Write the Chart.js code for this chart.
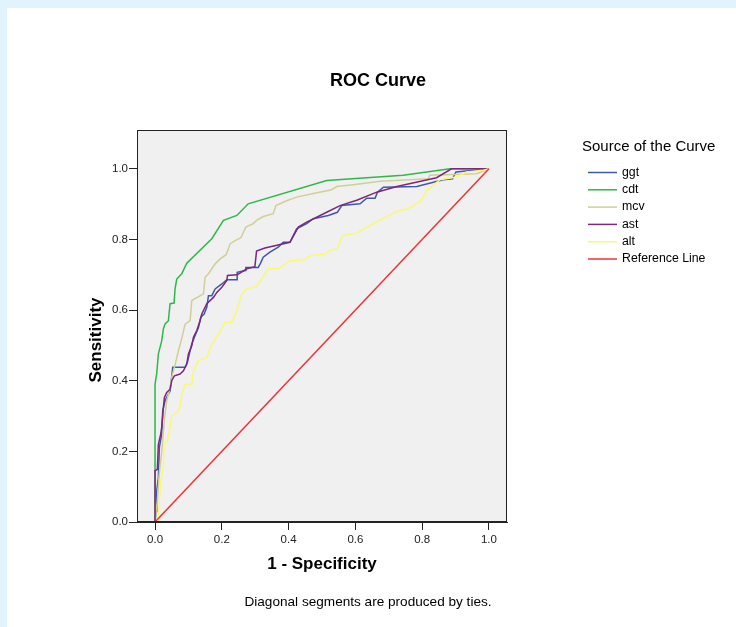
<!DOCTYPE html>
<html>
<head>
<meta charset="utf-8">
<script src="https://cdn.jsdelivr.net/npm/chart.js@4.4.0/dist/chart.umd.min.js"></script>
<style>
html, body { margin: 0; padding: 0; background: #e1f3fd; overflow: hidden; }
#paper { position: absolute; left: 7px; top: 8px; width: 729px; height: 619px; background: #ffffff; }
#roc { position: absolute; left: 0; top: 0; }
</style>
</head>
<body>
<div id="paper"></div>
<canvas id="roc" width="736" height="627"></canvas>
<script>
// series names and colours
var names = ["ggt", "cdt", "mcv", "ast", "alt", "Reference Line"];
var colors = ["#3e58ac", "#2eb848", "#d3ce97", "#7c287d", "#fbf873", "#ef3338"];

var xTicks = [0, 0.2, 0.4, 0.6, 0.8, 1.0];
var yTicks = [0, 0.2, 0.4, 0.6, 0.8, 1.0];

// 1 - specificity / sensitivity
var ggtX = [0, 0.003, 0.005, 0.01, 0.013, 0.02, 0.023, 0.03, 0.037, 0.045, 0.053, 0.09, 0.097, 0.105, 0.11, 0.12, 0.13, 0.137, 0.147, 0.155, 0.16, 0.17, 0.18, 0.2, 0.215, 0.246, 0.246, 0.27, 0.272, 0.309, 0.316, 0.324, 0.344, 0.369, 0.384, 0.404, 0.424, 0.454, 0.474, 0.519, 0.546, 0.559, 0.614, 0.634, 0.659, 0.666, 0.684, 0.784, 0.863, 0.891, 0.901, 1.0];
var ggtY = [0, 0.03, 0.088, 0.126, 0.211, 0.249, 0.315, 0.343, 0.357, 0.37, 0.438, 0.438, 0.452, 0.485, 0.504, 0.528, 0.551, 0.58, 0.589, 0.608, 0.641, 0.641, 0.66, 0.674, 0.686, 0.686, 0.707, 0.712, 0.721, 0.721, 0.733, 0.75, 0.764, 0.778, 0.792, 0.792, 0.83, 0.845, 0.859, 0.868, 0.877, 0.896, 0.901, 0.917, 0.917, 0.934, 0.948, 0.95, 0.969, 0.972, 0.991, 1.0];

var cdtX = [0, 0, 0.005, 0.01, 0.02, 0.025, 0.03, 0.04, 0.045, 0.057, 0.06, 0.065, 0.08, 0.095, 0.17, 0.205, 0.245, 0.279, 0.514, 0.743, 0.883, 1.0];
var cdtY = [0, 0.39, 0.42, 0.476, 0.513, 0.547, 0.561, 0.57, 0.618, 0.62, 0.66, 0.688, 0.703, 0.733, 0.802, 0.854, 0.868, 0.901, 0.967, 0.982, 1.0, 1.0];

var mcvX = [0, 0.003, 0.007, 0.012, 0.02, 0.028, 0.035, 0.045, 0.05, 0.06, 0.07, 0.08, 0.09, 0.105, 0.11, 0.145, 0.15, 0.16, 0.18, 0.195, 0.213, 0.225, 0.24, 0.257, 0.272, 0.294, 0.304, 0.324, 0.354, 0.362, 0.392, 0.424, 0.474, 0.529, 0.544, 0.599, 0.674, 0.818, 0.823, 0.963, 1.0];
var mcvY = [0, 0.03, 0.06, 0.13, 0.2, 0.29, 0.343, 0.38, 0.41, 0.445, 0.485, 0.52, 0.56, 0.57, 0.627, 0.646, 0.693, 0.703, 0.731, 0.745, 0.757, 0.788, 0.797, 0.805, 0.835, 0.845, 0.854, 0.865, 0.873, 0.896, 0.909, 0.92, 0.93, 0.941, 0.95, 0.956, 0.965, 0.972, 0.982, 0.986, 1.0];

var astX = [0, 0, 0.007, 0.01, 0.017, 0.02, 0.025, 0.028, 0.035, 0.045, 0.05, 0.058, 0.075, 0.085, 0.095, 0.1, 0.11, 0.115, 0.125, 0.135, 0.14, 0.155, 0.175, 0.185, 0.2, 0.215, 0.217, 0.246, 0.275, 0.299, 0.304, 0.329, 0.404, 0.429, 0.454, 0.484, 0.514, 0.554, 0.604, 0.664, 0.724, 0.843, 0.888, 1.0];
var astY = [0, 0.145, 0.149, 0.22, 0.249, 0.268, 0.324, 0.353, 0.367, 0.376, 0.4, 0.414, 0.419, 0.428, 0.447, 0.476, 0.499, 0.523, 0.542, 0.57, 0.589, 0.618, 0.636, 0.65, 0.665, 0.684, 0.698, 0.70, 0.717, 0.723, 0.767, 0.776, 0.792, 0.835, 0.849, 0.863, 0.877, 0.896, 0.911, 0.934, 0.95, 0.975, 1.0, 1.0];

var altX = [0, 0.01, 0.013, 0.017, 0.025, 0.027, 0.037, 0.045, 0.05, 0.065, 0.075, 0.08, 0.09, 0.11, 0.115, 0.13, 0.155, 0.165, 0.19, 0.21, 0.23, 0.245, 0.26, 0.275, 0.304, 0.339, 0.369, 0.404, 0.444, 0.469, 0.509, 0.524, 0.546, 0.562, 0.604, 0.654, 0.724, 0.758, 0.798, 0.813, 0.853, 0.903, 0.933, 0.983, 1.0];
var altY = [0, 0.003, 0.06, 0.116, 0.154, 0.22, 0.23, 0.268, 0.30, 0.31, 0.324, 0.363, 0.39, 0.39, 0.428, 0.457, 0.466, 0.494, 0.533, 0.565, 0.565, 0.599, 0.646, 0.66, 0.667, 0.717, 0.717, 0.74, 0.742, 0.755, 0.759, 0.769, 0.774, 0.811, 0.818, 0.845, 0.88, 0.887, 0.911, 0.937, 0.969, 0.977, 0.991, 0.996, 1.0];

var refX = [0, 1];
var refY = [0, 1];

var seriesX = [ggtX, cdtX, mcvX, astX, altX, refX];
var seriesY = [ggtY, cdtY, mcvY, astY, altY, refY];

var FONT = "'Liberation Sans', Arial, sans-serif";
var INK = "#222222";

var datasets = [];
for (var i = 0; i < names.length; i++) {
	var pts = [];
	for (var j = 0; j < seriesX[i].length; j++) {
		pts.push({ x: seriesX[i][j], y: seriesY[i][j] });
	}
	datasets.push({
		label: names[i],
		data: pts,
		borderColor: colors[i],
		backgroundColor: colors[i],
		borderWidth: 1.5,
		pointRadius: 0,
		tension: 0,
		fill: false,
		order: names.length - 1 - i
	});
}

var frame = {
	id: "frame",
	beforeDraw: function(chart) {
		var a = chart.chartArea, c = chart.ctx;
		c.save();
		c.fillStyle = "#f0f0f0";
		c.fillRect(a.left, a.top, a.right - a.left, a.bottom - a.top);
		c.restore();
	},
	afterDraw: function(chart) {
		var a = chart.chartArea, c = chart.ctx;
		c.save();
		c.strokeStyle = INK;
		c.lineWidth = 1;
		c.strokeRect(a.left + 0.5, a.top + 0.5, a.right - a.left - 1, a.bottom - a.top - 1);

		c.fillStyle = "#000";
		c.textAlign = "center";
		c.textBaseline = "middle";
		c.font = "bold 18px " + FONT;
		c.fillText("ROC Curve", 378, 81);

		c.font = "bold 17px " + FONT;
		c.fillText("1 - Specificity", 322, 564);

		c.save();
		c.translate(96, 340);
		c.rotate(-Math.PI / 2);
		c.fillText("Sensitivity", 0, 0);
		c.restore();

		c.font = "13.6px " + FONT;
		c.fillText("Diagonal segments are produced by ties.", 368, 602);

		// legend
		c.textAlign = "left";
		c.font = "15px " + FONT;
		c.fillText("Source of the Curve", 582, 147);
		c.font = "12.3px " + FONT;
		for (var k = 0; k < names.length; k++) {
			var y = 172.5 + k * 17.3;
			c.strokeStyle = colors[k];
			c.lineWidth = 1.5;
			c.beginPath();
			c.moveTo(588, y);
			c.lineTo(617, y);
			c.stroke();
			c.fillText(names[k], 622, y);
		}
		c.restore();
	}
};

new Chart(document.getElementById("roc"), {
	type: "line",
	data: { datasets: datasets },
	options: {
		responsive: false,
		animation: false,
		layout: { padding: { left: 87, right: 229, top: 130, bottom: 65 } },
		plugins: { legend: { display: false }, title: { display: false }, tooltip: { enabled: false } },
		scales: {
			x: {
				type: "linear",
				min: -0.054,
				max: 1.054,
				afterFit: function(s) { s.height = 40; },
				afterBuildTicks: function(s) { s.ticks = xTicks.map(function(v) { return { value: v }; }); },
				grid: { drawOnChartArea: false, drawTicks: true, tickLength: 8, color: INK },
				border: { display: true, color: INK },
				ticks: {
					autoSkip: false, maxRotation: 0, padding: 3, color: INK,
					font: { family: FONT, size: 11.5 },
					callback: function(v) { return Number(v).toFixed(1); }
				}
			},
			y: {
				type: "linear",
				min: 0,
				max: 1.11,
				afterFit: function(s) { s.width = 50; },
				afterBuildTicks: function(s) { s.ticks = yTicks.map(function(v) { return { value: v }; }); },
				grid: { drawOnChartArea: false, drawTicks: true, tickLength: 8, color: INK },
				border: { display: true, color: INK },
				ticks: {
					autoSkip: false, padding: 1, color: INK,
					font: { family: FONT, size: 11.5 },
					callback: function(v) { return Number(v).toFixed(1); }
				}
			}
		}
	},
	plugins: [frame]
});
</script>
</body>
</html>
